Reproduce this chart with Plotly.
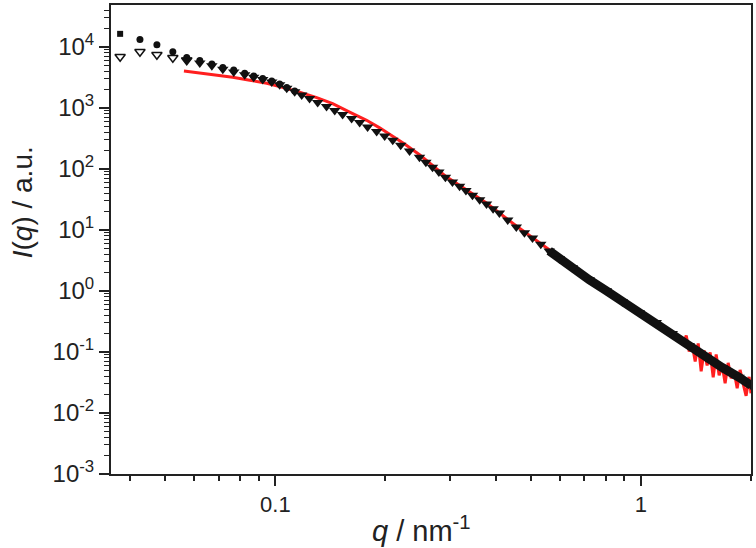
import plotly.graph_objects as go

# scattering data (q in nm^-1, I in a.u.)
q_sq = [0.0376]
I_sq = [16300]

q_circ = [0.0426, 0.0474, 0.0524, 0.0572, 0.0621, 0.0670, 0.0718, 0.0769, 0.0824,
          0.0872, 0.0923, 0.0977, 0.1027, 0.1074, 0.1129]
I_circ = [13150, 10780, 8280, 6700, 5950, 5250, 4600, 4150, 3680,
          3320, 3020, 2740, 2450, 2150, 1880]

q_open = [0.0376, 0.0426, 0.0474, 0.0524, 0.0572]
I_open = [6870, 8280, 7400, 6610, 6000]

q_tri = [0.0572, 0.0621, 0.0670, 0.0718, 0.0769, 0.0824, 0.0872, 0.0923, 0.0977, 0.1027,
         0.1074, 0.1129, 0.118, 0.124, 0.1305, 0.138, 0.1453, 0.1527, 0.1616, 0.170,
         0.1787, 0.1892, 0.199, 0.2094, 0.2201, 0.2328, 0.2478, 0.258, 0.269, 0.28, 0.2918,
         0.305, 0.319, 0.332, 0.346, 0.362, 0.378, 0.394, 0.410, 0.432, 0.456, 0.48, 0.505,
         0.532, 0.561, 0.598, 0.649, 0.722, 0.804, 0.889, 0.989, 1.101, 1.218, 1.355,
         1.508, 1.667, 1.855, 2.0]
I_tri = [6100, 5450, 4900, 4300, 3880, 3480, 3180, 2900, 2650, 2400,
         2100, 1840, 1620, 1420, 1220, 1050, 904, 778, 669, 575,
         486, 411, 347, 293, 243, 197, 155, 128, 106, 88.7, 72.9,
         61.0, 52.0, 44.0, 37.1, 31.2, 26.5, 22.3, 18.9, 14.5, 11.1, 9.0, 7.38,
         5.80, 4.53, 3.35, 2.39, 1.52, 1.007, 0.667, 0.441, 0.303, 0.200, 0.128,
         0.0813, 0.0558, 0.0384, 0.0284]

q_fit = [0.0562, 0.0621, 0.0691, 0.0764, 0.0851, 0.0947, 0.1027, 0.1115, 0.1165, 0.1297,
         0.1434, 0.1596, 0.1776, 0.1928, 0.2092, 0.2256, 0.2479, 0.2691, 0.2920, 0.3189,
         0.3778, 0.4562, 0.5617, 0.7225, 0.8891, 1.101, 1.233, 1.26, 1.28,
         1.305, 1.330, 1.355, 1.381, 1.407, 1.434, 1.461, 1.489, 1.517, 1.546,
         1.576, 1.606, 1.636, 1.668, 1.699, 1.732, 1.765, 1.798, 1.833, 1.867,
         1.903, 1.939, 1.976, 2.0]
I_fit = [4015, 3720, 3430, 3180, 2840, 2520, 2225, 1950, 1810, 1473,
         1175, 853, 625, 470, 345, 255, 170, 115, 75.7, 54.0,
         27.5, 11.6, 4.70, 1.58, 0.692, 0.315, 0.200, 0.170, 0.145,
         0.1324, 0.186, 0.1019, 0.1324, 0.0700, 0.138, 0.0481, 0.1057, 0.0603, 0.0982,
         0.0384, 0.0910, 0.0414, 0.0603, 0.0306, 0.0662, 0.0370, 0.0481, 0.0254, 0.0508,
         0.0301, 0.0191, 0.0391, 0.0210]

x_ticks = [0.1, 1]
x_ticktext = ["0.1", "1"]
y_ticks = [1e-3, 1e-2, 1e-1, 1, 10, 100, 1e3, 1e4]
y_ticktext = ["10<sup>-3</sup>", "10<sup>-2</sup>", "10<sup>-1</sup>", "10<sup>0</sup>",
              "10<sup>1</sup>", "10<sup>2</sup>", "10<sup>3</sup>", "10<sup>4</sup>"]

BLACK = "#111111"
RED = "#ff1f1f"
INK = "#222222"
FONT = "Liberation Sans, Arial, sans-serif"

fig = go.Figure()
fig.add_trace(go.Scatter(x=q_fit, y=I_fit, mode="lines",
                         line=dict(color=RED, width=3)))
band = q_tri.index(0.561)
fig.add_trace(go.Scatter(x=q_tri[band:], y=I_tri[band:], mode="lines",
                         line=dict(color=BLACK, width=9)))
fig.add_trace(go.Scatter(x=q_tri, y=I_tri, mode="markers",
                         marker=dict(symbol="triangle-down", size=10, color=BLACK)))
fig.add_trace(go.Scatter(x=q_circ, y=I_circ, mode="markers",
                         marker=dict(symbol="circle", size=7, color=BLACK)))
fig.add_trace(go.Scatter(x=q_open, y=I_open, mode="markers",
                         marker=dict(symbol="triangle-down-open", size=9, color=BLACK,
                                     line=dict(width=1.5, color=BLACK))))
fig.add_trace(go.Scatter(x=q_sq, y=I_sq, mode="markers",
                         marker=dict(symbol="square", size=6, color=BLACK)))

minor_x = [m * 10 ** e for e in (-2, -1, 0) for m in range(2, 10)]
minor_y = [m * 10 ** e for e in range(-3, 5) for m in range(2, 10)]

axis_common = dict(type="log", showgrid=False, zeroline=False, showline=True,
                   linecolor=INK, linewidth=2, mirror=True,
                   ticks="outside", tickwidth=1.5, tickcolor=INK, ticklen=10)

fig.update_xaxes(range=[-1.4498, 0.3010], tickmode="array", tickvals=x_ticks,
                 ticktext=x_ticktext, tickfont=dict(family=FONT, size=22, color=INK),
                 minor=dict(tickmode="array", tickvals=minor_x, ticks="outside",
                            ticklen=5, tickwidth=1.5, tickcolor=INK, showgrid=False),
                 **axis_common)
fig.update_yaxes(range=[-3, 4.685], tickmode="array", tickvals=y_ticks,
                 ticktext=y_ticktext, tickfont=dict(family=FONT, size=24, color=INK),
                 minor=dict(tickmode="array", tickvals=minor_y, ticks="outside",
                            ticklen=5, tickwidth=1.2, tickcolor=INK, showgrid=False),
                 **axis_common)

fig.add_annotation(text="<i>q</i> / nm<sup>-1</sup>", xref="paper", yref="paper",
                   x=0.485, y=-0.118, xanchor="center", yanchor="middle", showarrow=False,
                   font=dict(family=FONT, size=29, color=INK))
fig.add_annotation(text="<i>I</i>(<i>q</i>) / a.u.", xref="paper", yref="paper",
                   x=-0.137, y=0.58, xanchor="center", yanchor="middle", showarrow=False,
                   textangle=-90, font=dict(family=FONT, size=28, color=INK))

fig.update_layout(width=756, height=548, showlegend=False,
                  margin=dict(l=111, r=4, t=3, b=74),
                  plot_bgcolor="white", paper_bgcolor="white")

fig.write_html("out.html", config={"displayModeBar": False},
               post_script="document.body.style.margin='0px';")
